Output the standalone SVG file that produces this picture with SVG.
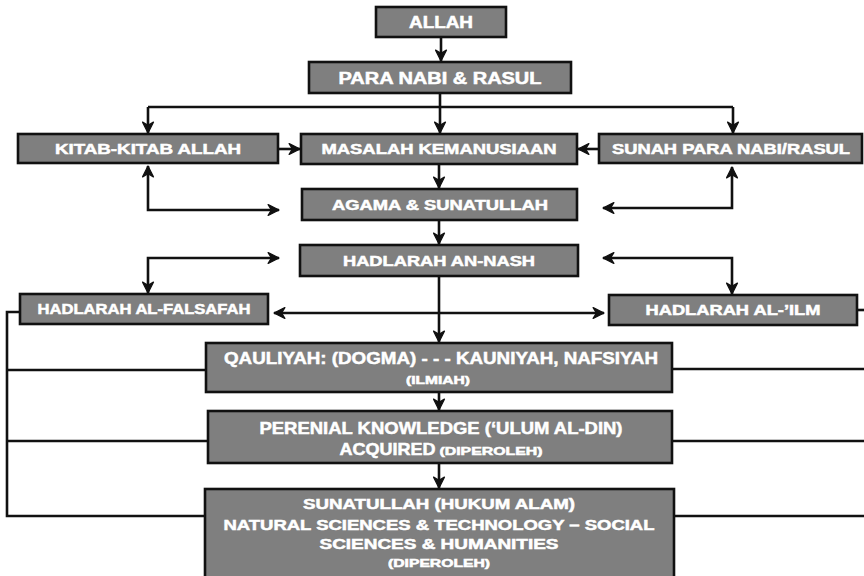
<svg xmlns="http://www.w3.org/2000/svg" width="864" height="576" viewBox="0 0 864 576">
  <style>
    .box { fill: #7f7f7f; stroke: #111; stroke-width: 2.6; }
    .lbl { fill: #fff; stroke: #fff; stroke-width: 0.5; font-family: "Liberation Sans", Arial, sans-serif; font-weight: bold; text-anchor: middle; }
    .big { font-size: 16px; }
    .mid { font-size: 14.5px; }
    .tall { font-size: 17px; }
    .sm { font-size: 10.5px; }
    .wire { fill: none; stroke: #111; stroke-width: 2.6; }
    .arr { marker-end: url(#ah); }
    .arr2 { marker-start: url(#ah); marker-end: url(#ah); }
  </style>
  <defs>
    <!-- notched arrowhead, tip sits exactly on the path end -->
    <marker id="ah" viewBox="0 0 12 12" markerWidth="13" markerHeight="13" refX="11" refY="6" orient="auto-start-reverse" markerUnits="userSpaceOnUse">
      <path d="M1,1 L11,6 L1,11 L4,6 z" fill="#111" stroke="#111" stroke-width="1.2" stroke-linejoin="round"/>
    </marker>
  </defs>
  <rect width="864" height="576" fill="#fff"/>

  <g id="connectors">
    <path class="wire arr" d="M441,37 V61"/>
    <path class="wire arr" d="M440,93 V133"/>
    <path class="wire" d="M148,107 H733"/>
    <path class="wire arr" d="M148,107 V133"/>
    <path class="wire arr" d="M733,107 V133"/>
    <path class="wire arr" d="M279,149 H300"/>
    <path class="wire arr" d="M599,149 H578"/>
    <path class="wire arr" d="M439,164 V188"/>
    <path class="wire arr" d="M439,220 V244"/>
    <path class="wire arr2" d="M148,166 V210 H279"/>
    <path class="wire arr2" d="M732,167 V208 H603"/>
    <path class="wire arr2" d="M279,258 H148 V293"/>
    <path class="wire arr2" d="M603,258 H732 V294"/>
    <path class="wire arr2" d="M274,313 H604"/>
    <path class="wire arr" d="M439,276 V342"/>
    <path class="wire arr" d="M439,392 V410"/>
    <path class="wire arr" d="M439,463 V488"/>
    <path class="wire" d="M20,312 H7 V516 H205"/>
    <path class="wire" d="M7,370 H206"/>
    <path class="wire" d="M7,441 H208"/>
    <path class="wire" d="M857,310 H866"/>
    <path class="wire" d="M672,369 H866"/>
    <path class="wire" d="M672,441 H866"/>
    <path class="wire" d="M674,516 H866"/>
  </g>

  <g id="allah">
    <rect class="box" x="376" y="7" width="130" height="30"/>
    <text class="lbl big" x="441" y="28" textLength="64" lengthAdjust="spacingAndGlyphs">ALLAH</text>
  </g>
  <g id="para-nabi">
    <rect class="box" x="309" y="62" width="262" height="31"/>
    <text class="lbl big" x="440" y="84" textLength="203" lengthAdjust="spacingAndGlyphs">PARA NABI &amp; RASUL</text>
  </g>
  <g id="kitab">
    <rect class="box" x="18" y="134" width="260" height="29"/>
    <text class="lbl mid" x="148" y="154" textLength="186" lengthAdjust="spacingAndGlyphs">KITAB-KITAB ALLAH</text>
  </g>
  <g id="masalah">
    <rect class="box" x="301" y="134" width="276" height="30"/>
    <text class="lbl mid" x="439" y="154" textLength="235" lengthAdjust="spacingAndGlyphs">MASALAH KEMANUSIAAN</text>
  </g>
  <g id="sunah">
    <rect class="box" x="599" y="134" width="263" height="29"/>
    <text class="lbl mid" x="731" y="154" textLength="238" lengthAdjust="spacingAndGlyphs">SUNAH PARA NABI/RASUL</text>
  </g>
  <g id="agama">
    <rect class="box" x="302" y="189" width="275" height="31"/>
    <text class="lbl mid" x="440" y="210" textLength="216" lengthAdjust="spacingAndGlyphs">AGAMA &amp; SUNATULLAH</text>
  </g>
  <g id="an-nash">
    <rect class="box" x="300" y="245" width="278" height="31"/>
    <text class="lbl mid" x="439" y="266" textLength="192" lengthAdjust="spacingAndGlyphs">HADLARAH AN-NASH</text>
  </g>
  <g id="al-falsafah">
    <rect class="box" x="20" y="294" width="248" height="30"/>
    <text class="lbl mid" x="144" y="314" textLength="213" lengthAdjust="spacingAndGlyphs">HADLARAH AL-FALSAFAH</text>
  </g>
  <g id="al-ilm">
    <rect class="box" x="609" y="295" width="248" height="30"/>
    <text class="lbl mid" x="733" y="315" textLength="175" lengthAdjust="spacingAndGlyphs">HADLARAH AL-’ILM</text>
  </g>
  <g id="qauliyah">
    <rect class="box" x="206" y="343" width="466" height="49"/>
    <text class="lbl tall" x="441" y="364" textLength="434" lengthAdjust="spacingAndGlyphs">QAULIYAH: (DOGMA) - - - KAUNIYAH, NAFSIYAH</text>
    <text class="lbl sm" x="438" y="384" textLength="64" lengthAdjust="spacingAndGlyphs">(ILMIAH)</text>
  </g>
  <g id="perenial">
    <rect class="box" x="208" y="411" width="464" height="52"/>
    <text class="lbl tall" x="441" y="434" textLength="363" lengthAdjust="spacingAndGlyphs">PERENIAL KNOWLEDGE (‘ULUM AL-DIN)</text>
    <text class="lbl tall" x="441" y="455"><tspan textLength="96" lengthAdjust="spacingAndGlyphs">ACQUIRED</tspan><tspan class="sm" dx="4" textLength="103" lengthAdjust="spacingAndGlyphs">(DIPEROLEH)</tspan></text>
  </g>
  <g id="sunatullah">
    <rect class="box" x="205" y="489" width="469" height="92"/>
    <text class="lbl mid" x="439" y="509" textLength="272" lengthAdjust="spacingAndGlyphs">SUNATULLAH (HUKUM ALAM)</text>
    <text class="lbl mid" x="439" y="530" textLength="431" lengthAdjust="spacingAndGlyphs">NATURAL SCIENCES &amp; TECHNOLOGY – SOCIAL</text>
    <text class="lbl mid" x="439" y="549" textLength="239" lengthAdjust="spacingAndGlyphs">SCIENCES &amp; HUMANITIES</text>
    <text class="lbl sm" x="439" y="567" textLength="102" lengthAdjust="spacingAndGlyphs">(DIPEROLEH)</text>
  </g>
</svg>
